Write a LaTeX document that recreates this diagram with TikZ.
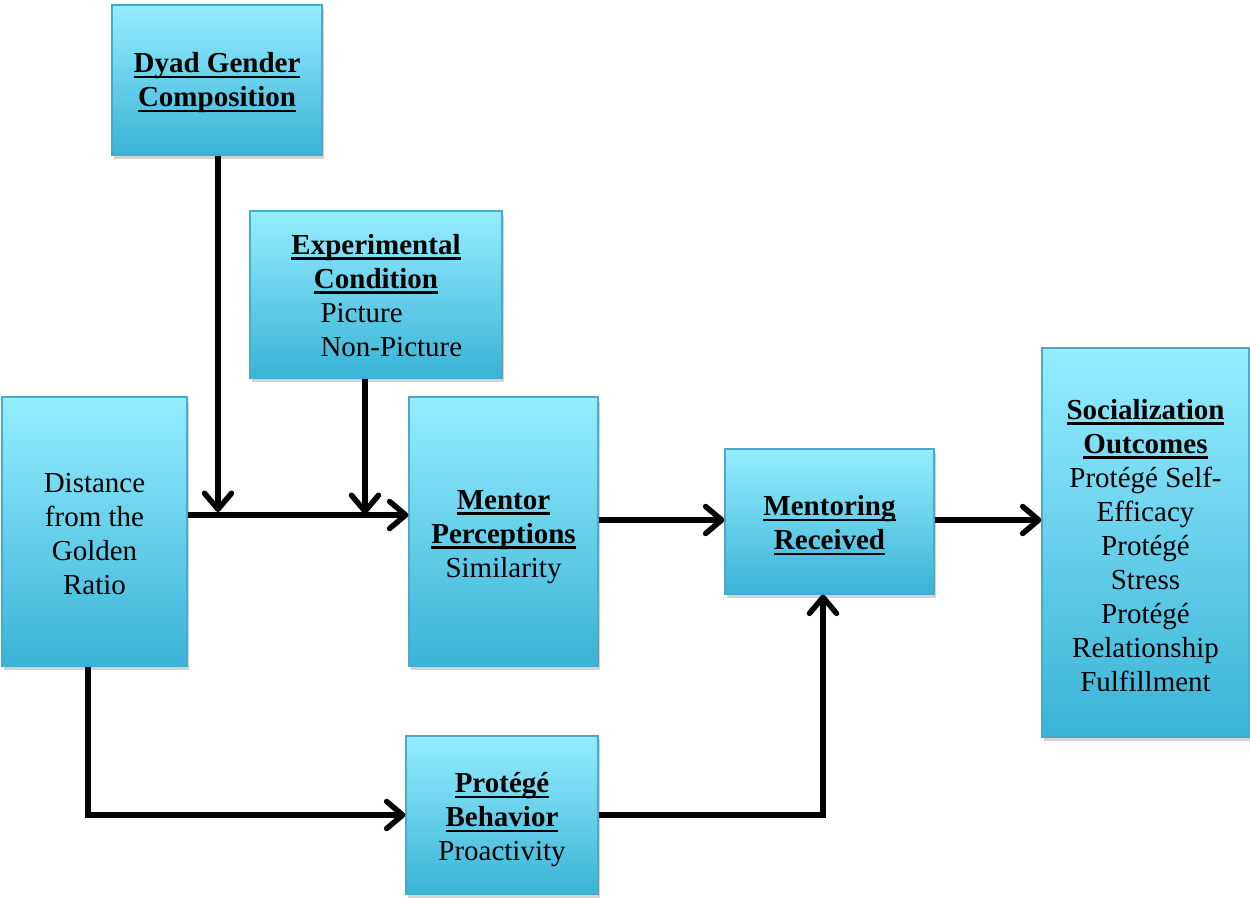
\documentclass[tikz,border=0pt]{standalone}
\usepackage{fontspec}
\setmainfont{Liberation Serif}
\usetikzlibrary{arrows.meta,shadows}
\definecolor{boxtop}{HTML}{95EDFE}
\definecolor{boxbot}{HTML}{3AB3D7}
\definecolor{boxline}{HTML}{4AAAC9}
\newcommand{\hd}[1]{\setbox0=\hbox{\bfseries #1}\rlap{\rule[-5.5pt]{\wd0}{2.6pt}}\box0}
\newcommand{\lft}[1]{\hspace*{32pt}\makebox[143pt][l]{#1}}
\newcommand{\tp}[1]{\rule{0pt}{#1pt}}
\tikzset{
  box/.style={draw=boxline, line width=1.2pt, top color=boxtop, bottom color=boxbot,
    inner sep=0pt, align=center, font=\fontsize{29}{34}\selectfont,
    drop shadow={shadow xshift=1.5pt, shadow yshift=-4pt, opacity=0.35}},
  conn/.style={line width=5.5pt, -{Straight Barb[length=16pt,width=27pt,round]}}
}
\begin{document}
\begin{tikzpicture}[x=1pt,y=-1pt]
\useasboundingbox (0,0) rectangle (1250,899);
\node[box, minimum width=210pt, minimum height=150pt] (dyad) at (217,80)
  {\tp{26}\hd{Dyad Gender}\\\hd{Composition}};
\node[box, minimum width=252pt, minimum height=167pt] (exp) at (376,294.5)
  {\tp{22}\hd{Experimental}\\\hd{Condition}\\\lft{Picture}\\\lft{Non-Picture}};
\node[box, minimum width=185pt, minimum height=269pt] (dist) at (94.5,531.5)
  {\tp{24}Distance\\from the\\Golden\\Ratio};
\node[box, minimum width=189pt, minimum height=269pt] (ment) at (503.5,531.5)
  {\tp{30}\hd{Mentor}\\\hd{Perceptions}\\Similarity};
\node[box, minimum width=209pt, minimum height=145pt] (recv) at (829.5,521.5)
  {\tp{28}\hd{Mentoring}\\\hd{Received}};
\node[box, minimum width=207pt, minimum height=389pt] (soc) at (1145.5,542.5)
  {\tp{26}\hd{Socialization}\\\hd{Outcomes}\\Protégé Self-\\Efficacy\\Protégé\\Stress\\Protégé\\Relationship\\Fulfillment};
\node[box, minimum width=192pt, minimum height=158pt] (prot) at (502,815)
  {\tp{30}\hd{Protégé}\\\hd{Behavior}\\Proactivity};
\coordinate (jd) at (218,512);
\coordinate (je) at (365,514);
\coordinate (hy) at (0,515);
\coordinate (hr) at (0,520);
\coordinate (bl) at (88,815);
\coordinate (br) at (823,815);
\draw[conn] (jd |- dyad.south) -- (jd);
\draw[conn] (je |- exp.south) -- (je);
\draw[conn] (dist.east |- hy) -- (ment.west |- hy);
\draw[conn] (ment.east |- hr) -- (recv.west |- hr);
\draw[conn] (recv.east |- hr) -- (soc.west |- hr);
\draw[conn] (bl |- dist.south) -- (bl) -- (prot.west |- bl);
\draw[conn] (prot.east |- br) -- (br) -- (br |- recv.south);
\end{tikzpicture}
\end{document}
